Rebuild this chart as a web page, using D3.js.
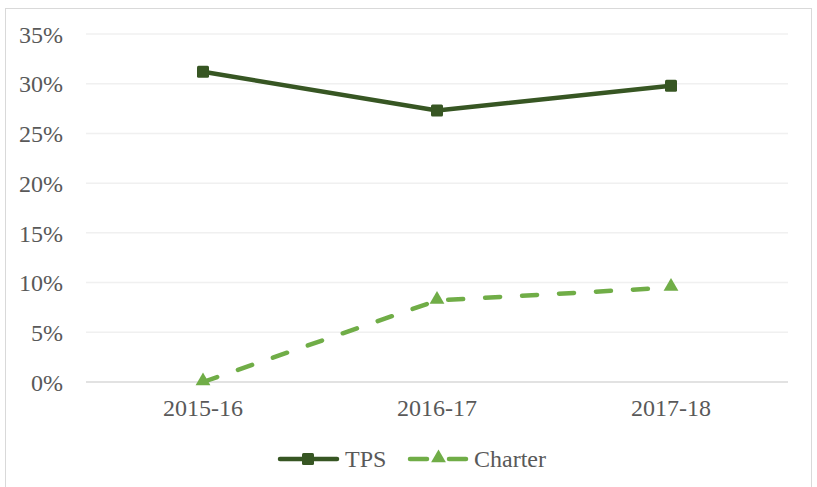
<!DOCTYPE html>
<html lang="en">
<head>
    <meta charset="UTF-8">
    <title>TPS vs Charter</title>
    <script src="https://d3js.org/d3.v7.min.js"></script>
    <style>
        body { margin: 0; background: #fff; }
        text { font-family: "Liberation Serif", "Times New Roman", serif; fill: #595959; }
    </style>
</head>
<body>
    <div class="canvas"></div>
    <script>
        let years = ["2015-16", "2016-17", "2017-18"];
        let tps = [0.312, 0.273, 0.298];
        let charter = [0.0, 0.082, 0.095];
        let yTicks = [0, 0.05, 0.10, 0.15, 0.20, 0.25, 0.30, 0.35];

        let W = 817, H = 487;
        let margin = { top: 34, right: 29, bottom: 105, left: 86 };
        let width = W - margin.left - margin.right;
        let height = H - margin.top - margin.bottom;

        let svg = d3.select(".canvas").append("svg")
            .attr("width", W)
            .attr("height", H);

        // chart frame
        svg.append("rect")
            .attr("x", 5.5).attr("y", 8.5)
            .attr("width", 806).attr("height", 490)
            .attr("fill", "none")
            .attr("stroke", "#d9d9d9");

        let g = svg.append("g")
            .attr("transform", "translate(" + margin.left + "," + margin.top + ")");

        let x = d3.scaleBand().domain(years).range([0, width]);
        let y = d3.scaleLinear().domain([0, 0.35]).range([height, 0]);

        // grid
        g.selectAll(".grid").data(yTicks).enter().append("line")
            .attr("x1", 0).attr("x2", width)
            .attr("y1", d => y(d)).attr("y2", d => y(d))
            .attr("stroke", d => d === 0 ? "#d9d9d9" : "#f0f0f0")
            .attr("stroke-width", 1.5);

        let yAxis = g.append("g")
            .call(d3.axisLeft(y).tickValues(yTicks).tickFormat(d3.format(".0%")).tickSize(0).tickPadding(23));
        yAxis.select(".domain").remove();
        yAxis.selectAll("text").style("font-size", "24px").attr("fill", "#595959").attr("dy", "0.34em");

        let xAxis = g.append("g")
            .attr("transform", "translate(0," + height + ")")
            .call(d3.axisBottom(x).tickSize(0).tickPadding(17));
        xAxis.select(".domain").remove();
        xAxis.selectAll("text").style("font-size", "24px").attr("fill", "#595959");

        let cx = d => x(d) + x.bandwidth() / 2;
        let line = d3.line().x(d => cx(d[0])).y(d => y(d[1]));

        // TPS
        g.append("path")
            .datum(years.map((d, i) => [d, tps[i]]))
            .attr("d", line)
            .attr("fill", "none")
            .attr("stroke", "#375623")
            .attr("stroke-width", 4.5)
            .attr("stroke-linejoin", "round");
        g.selectAll(".tps").data(years).enter().append("rect")
            .attr("x", d => cx(d) - 6)
            .attr("y", (d, i) => y(tps[i]) - 6)
            .attr("width", 12).attr("height", 12)
            .attr("rx", 1.5)
            .attr("fill", "#375623");

        // Charter
        g.append("path")
            .datum(years.map((d, i) => [d, charter[i]]))
            .attr("d", line)
            .attr("fill", "none")
            .attr("stroke", "#70ad47")
            .attr("stroke-width", 4.5)
            .attr("stroke-linecap", "round")
            .attr("stroke-dasharray", "15,22");
        let tri = d3.symbol().type(d3.symbolTriangle).size(95);
        g.selectAll(".ch").data(years).enter().append("path")
            .attr("d", tri)
            .attr("transform", (d, i) => "translate(" + cx(d) + "," + (y(charter[i]) - 1) + ")")
            .attr("fill", "#70ad47");

        // legend
        let leg = svg.append("g").attr("transform", "translate(0,459)");
        leg.append("line").attr("x1", 280).attr("x2", 337).attr("y1", 0).attr("y2", 0)
            .attr("stroke", "#375623").attr("stroke-width", 4.5).attr("stroke-linecap", "round");
        leg.append("rect").attr("x", 302).attr("y", -6).attr("width", 12).attr("height", 12)
            .attr("rx", 1.5).attr("fill", "#375623");
        leg.append("text").attr("x", 345).attr("y", 0).attr("dy", "0.34em")
            .style("font-size", "24px").text("TPS");

        leg.append("line").attr("x1", 410).attr("x2", 427).attr("y1", 0).attr("y2", 0)
            .attr("stroke", "#70ad47").attr("stroke-width", 4.5).attr("stroke-linecap", "round");
        leg.append("line").attr("x1", 449).attr("x2", 466).attr("y1", 0).attr("y2", 0)
            .attr("stroke", "#70ad47").attr("stroke-width", 4.5).attr("stroke-linecap", "round");
        leg.append("path").attr("d", tri).attr("transform", "translate(438.5,-1)").attr("fill", "#70ad47");
        leg.append("text").attr("x", 474).attr("y", 0).attr("dy", "0.34em")
            .style("font-size", "24px").text("Charter");
    </script>
</body>
</html>
